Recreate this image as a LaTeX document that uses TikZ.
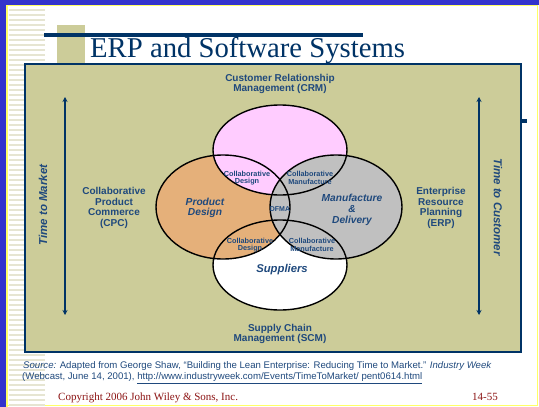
\documentclass[tikz,border=0pt]{standalone}
\usepackage{fontspec}
\setmainfont{Liberation Serif}
\setsansfont{Liberation Sans}
\usetikzlibrary{arrows.meta}
\definecolor{slideblue}{RGB}{51,51,204}
\definecolor{slideyellow}{RGB}{255,255,102}
\definecolor{stripe}{RGB}{230,229,210}
\definecolor{beige}{RGB}{204,204,153}
\definecolor{navy}{RGB}{0,51,102}
\definecolor{labelblue}{RGB}{31,73,125}
\definecolor{pinkfill}{RGB}{255,204,255}
\definecolor{orangefill}{RGB}{229,176,122}
\definecolor{grayfill}{RGB}{192,192,192}
\definecolor{copyred}{RGB}{140,20,20}
\begin{document}
\begin{tikzpicture}[x=1pt,y=-1pt,
 lbl/.style={font=\sffamily\bfseries\fontsize{10}{10.7}\selectfont, text=labelblue, align=center, inner sep=0pt},
 small/.style={font=\sffamily\bfseries\fontsize{7.3}{7.5}\selectfont, text=labelblue, align=center, inner sep=0pt},
 big/.style={font=\sffamily\bfseries\itshape\fontsize{10.2}{10.7}\selectfont, text=labelblue, align=center, inner sep=0pt},
 side/.style={font=\sffamily\bfseries\itshape\fontsize{11.5}{12}\selectfont, text=labelblue, inner sep=0pt},
 venn/.style={draw=black, line width=1.4pt},
 timearrow/.style={draw=navy, line width=1.5pt, {Stealth[length=5pt,width=5pt]}-{Stealth[length=5pt,width=5pt]}}
]
\useasboundingbox (0,0) rectangle (539,407);
% slide background and frame
\fill[white] (0,0) rectangle (539,407);
\fill[slideblue] (0,0) rectangle (539,4.5);
\fill[slideblue] (0,0) rectangle (6,407);
\draw[slideyellow, line width=1.2pt] (7,407) -- (7,5.5) -- (537.5,5.5) -- (537.5,405.5) -- (7,405.5);
% left stripes
\foreach \yy in {9,14,...,404} \fill[stripe] (8.5,\yy) rectangle (45,\yy+2.4);
% title decoration
\fill[beige] (57,25) rectangle (85,63);
\fill[navy] (44,33) rectangle (363,37);
\node[anchor=base west, inner sep=0pt, text=navy, font=\fontsize{28.7}{30}\selectfont] (title) at (90,57.5) {ERP and Software Systems};
% main box
\fill[navy] (521,119) rectangle (527,122.5);
\draw[fill=beige, draw=navy, line width=1.8pt] (25,64) rectangle (521,352);
% venn diagram
\fill[white] (280,265) ellipse [x radius=67pt, y radius=45pt];
\fill[orangefill] (223,207) ellipse [x radius=67pt, y radius=52pt];
\fill[pinkfill] (280,150) ellipse [x radius=67pt, y radius=45pt];
\fill[grayfill] (336,207) ellipse [x radius=66pt, y radius=52pt];
\draw[venn] (280,265) ellipse [x radius=67pt, y radius=45pt];
\draw[venn] (223,207) ellipse [x radius=67pt, y radius=52pt];
\draw[venn] (280,150) ellipse [x radius=67pt, y radius=45pt];
\draw[venn] (336,207) ellipse [x radius=66pt, y radius=52pt];
% labels in the venn
\node[small] (cd1) at (247,178) {Collaborative\\Design};
\node[small] (cm1) at (310,178) {Collaborative\\Manufacture};
\node[small] (cd2) at (250,245) {Collaborative\\Design};
\node[small] (cm2) at (312,245) {Collaborative\\Manufacture};
\node[small, font=\sffamily\bfseries\fontsize{7}{7.5}\selectfont] (dfma) at (280,209) {DFMA};
\node[big] (pd) at (205,208) {Product\\Design};
\node[big] (md) at (352,210) {Manufacture\\\&\\Delivery};
\node[big, font=\sffamily\bfseries\itshape\fontsize{11.3}{12}\selectfont] (sup) at (282,270) {Suppliers};
% outer labels
\node[lbl] (crm) at (280,84) {Customer Relationship\\Management (CRM)};
\node[lbl] (scm) at (280,334) {Supply Chain\\Management (SCM)};
\node[lbl] (cpc) at (114,208) {Collaborative\\Product\\Commerce\\(CPC)};
\node[lbl] (erp) at (441,208) {Enterprise\\Resource\\Planning\\(ERP)};
% time arrows
\coordinate (lt) at (65,97);
\coordinate (lb) at (65,315);
\coordinate (rt) at (479,97);
\coordinate (rb) at (479,315);
\draw[timearrow] (lt) -- (lb);
\draw[timearrow] (rt) -- (rb);
\node[side, rotate=90] (ttm) at (43,205) {Time to Market};
\node[side, rotate=-90] (ttc) at (498,207) {Time to Customer};
% source
\node[anchor=base west, inner sep=0pt, text=labelblue, font=\sffamily\fontsize{9.6}{11}\selectfont] (src1) at (23,368) {\textit{Source:} Adapted from George Shaw, “Building the Lean Enterprise: Reducing Time to Market.” \textit{Industry Week}};
\node[anchor=base west, inner sep=0pt, text=labelblue, font=\sffamily\fontsize{9.6}{11}\selectfont] (src2) at (22,379.5) {(Webcast, June 14, 2001), \underline{http://www.industryweek.com/Events/TimeToMarket/ pent0614.html}};
% footer
\node[anchor=base west, inner sep=0pt, text=copyred, font=\fontsize{11}{12}\selectfont] (copy) at (58,400) {Copyright 2006 John Wiley \& Sons, Inc.};
\node[anchor=base west, inner sep=0pt, text=copyred, font=\fontsize{11}{12}\selectfont] (page) at (472,400) {14-55};
\end{tikzpicture}
\end{document}
